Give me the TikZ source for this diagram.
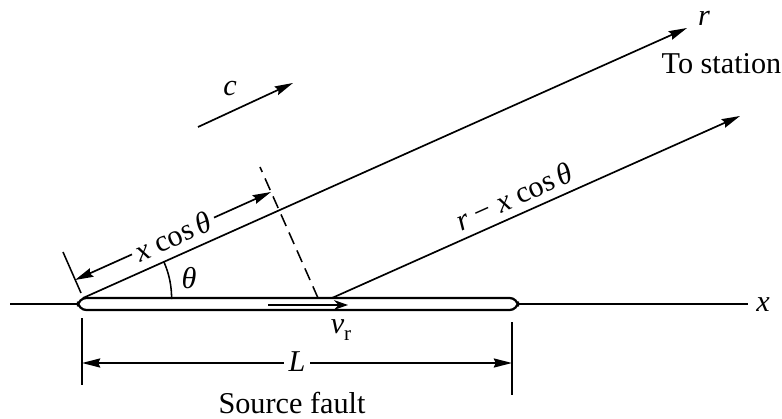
\documentclass[tikz,border=0pt]{standalone}
\usepackage{fontspec}
\setmainfont{Liberation Serif}
\usetikzlibrary{arrows.meta,angles,calc}
\tikzset{
  ln/.style={line width=1.2pt},
  arr/.style={ln,-{Stealth[length=13pt,width=6.5pt,inset=1.5pt]}},
  dimarr/.style={ln,{Stealth[length=13pt,width=6.5pt,inset=1.5pt]}-{Stealth[length=13pt,width=6.5pt,inset=1.5pt]}},
  lbl/.style={font=\fontsize{21.5}{24}\selectfont, inner sep=1pt},
  gap/.style={lbl, fill=white, inner sep=3pt},
}
\begin{document}
\begin{tikzpicture}[x=0.025cm,y=-0.025cm]
\useasboundingbox (0,0) rectangle (782,419);
% coordinates
\coordinate (O) at (83,298);
\coordinate (Rtip) at (687,28);
\coordinate (P) at (332,298);
\coordinate (Qtip) at (740,116);
\coordinate (D0) at (318,298);
\coordinate (D1) at (260,167);
\coordinate (T0) at (81,293);
\coordinate (T1) at (63,252);
\coordinate (A0) at (75,280);
\coordinate (A1) at (271,192);
\coordinate (Xl0) at (10,304);
\coordinate (Xl1) at (78,304);
\coordinate (Xr0) at (518,304);
\coordinate (Xr1) at (748,304);
\coordinate (C0) at (198,127);
\coordinate (C1) at (293,83);
\coordinate (V0) at (268,305);
\coordinate (V1) at (348,305);
\coordinate (E1a) at (82,318);
\coordinate (E1b) at (82,385);
\coordinate (E2a) at (512,322);
\coordinate (E2b) at (512,395);
\coordinate (La) at (82,363);
\coordinate (Lb) at (512,363);
% x axis
\draw[line width=0.9pt] (Xl0) -- (Xl1);
\draw[line width=0.9pt] (Xr0) -- (Xr1);
\node[lbl] (xlab) at (763,305) {\textit{x}};
% fault
\draw[line width=1.6pt, rounded corners=6pt] (78,298) rectangle (518,310);
% v_r arrow
\draw[line width=1.1pt,-{Stealth[length=10pt,width=7pt]}] (V0) -- (V1);
\node[lbl] (vr) at (341,330) {\textit{v}\raisebox{-5pt}{\fontsize{15}{15}\selectfont r}};
% rays
\draw[arr] (O) -- (Rtip);
\node[lbl] (rlab) at (704,18) {\textit{r}};
\node[lbl, anchor=west] (station) at (660,64) {To station};
\draw[arr] (P) -- (Qtip);
\node[lbl, rotate=24.1] (rx) at (514,196) {\textit{r} − \textit{x} cos\,\textit{θ}};
% dashed perpendicular
\draw[line width=1.1pt, dash pattern=on 9pt off 5pt] (D0) -- (D1);
% x cos theta dimension
\draw[line width=1.1pt] (T0) -- (T1);
\draw[dimarr] (A0) -- (A1);
\node[gap, rotate=24.1] (xc) at ($(A0)!0.5!(A1)$) {\textit{x} cos\,\textit{θ}};
% angle
\pic[draw, line width=1.1pt, angle radius=63pt] {angle = Xr0--O--Rtip};
\node[lbl] (th) at (189,278) {\textit{θ}};
% c arrow
\draw[arr] (C0) -- (C1);
\node[lbl] (clab) at (230,89) {\textit{c}};
% L dimension
\draw[line width=1.1pt] (E1a) -- (E1b);
\draw[line width=1.1pt] (E2a) -- (E2b);
\draw[dimarr] (La) -- (Lb);
\node[gap] (Llab) at (297,362) {\textit{L}};
\node[lbl] (src) at (292,403) {Source fault};
\end{tikzpicture}
\end{document}
